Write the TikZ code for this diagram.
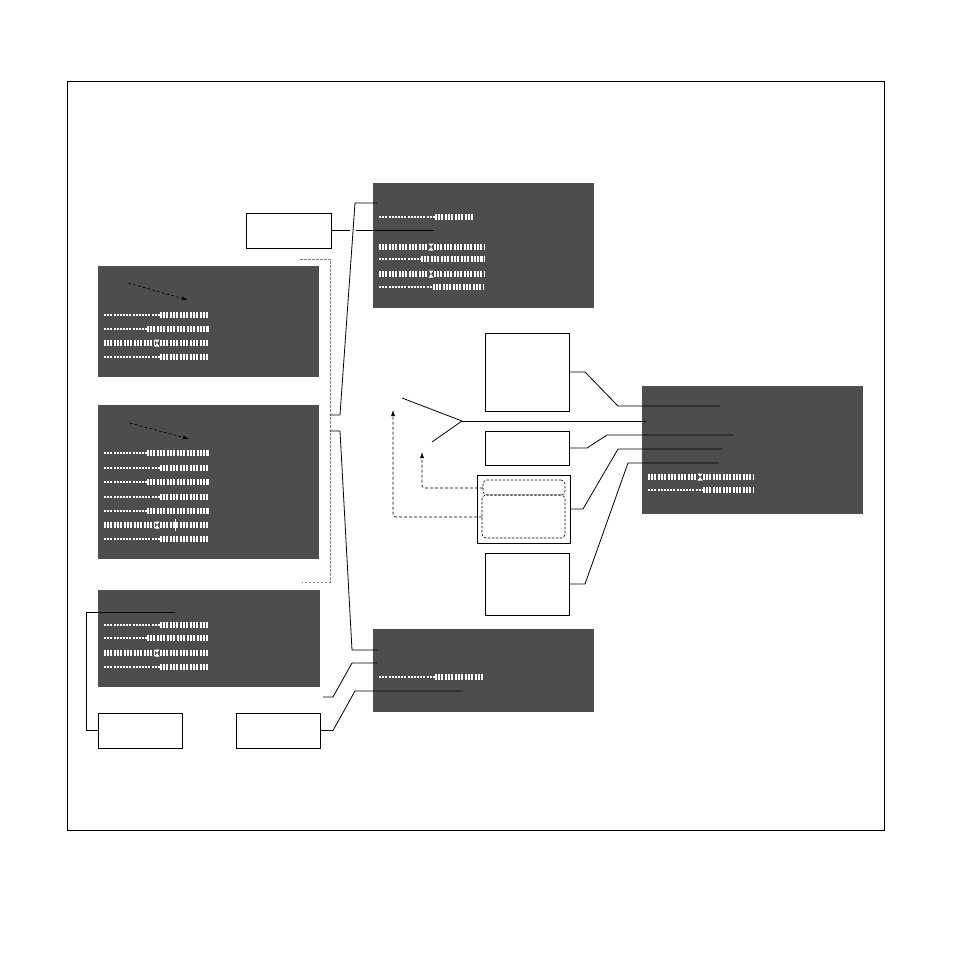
\documentclass[tikz,border=0pt]{standalone}
\usetikzlibrary{arrows.meta}
\definecolor{dkgray}{RGB}{77,77,77}
\newcommand\myDrow[4]{%
  \draw[dashrow] (#1,#4) -- (#2,#4);
  \draw[barrow] (#2,#4) -- (#3,#4);}
\newcommand\myHrow[4]{%
  \draw[barrow] (#1,#4) -- ({#2-3},#4);
  \draw[barrow] ({#2+3},#4) -- (#3,#4);
  \fill[white] ({#2-2.5},{#4-3.5}) -- ({#2+2.5},{#4-3.5}) -- (#2,#4) -- cycle;
  \fill[white] ({#2-2.5},{#4+3.5}) -- ({#2+2.5},{#4+3.5}) -- (#2,#4) -- cycle;}
\tikzset{
  darkbox/.style={fill=dkgray, draw=none, inner sep=0pt, outer sep=0pt, anchor=north west},
  wbox/.style={draw=black, line width=0.8pt, fill=white, inner sep=0pt, outer sep=0pt, anchor=north west},
  innerdash/.style={draw=black, line width=0.6pt, dash pattern=on 2.5pt off 1.5pt, rounded corners=4pt, inner sep=0pt, outer sep=0pt, anchor=north west},
  conn/.style={draw=black, line width=0.8pt},
  bracket/.style={draw=gray, line width=0.8pt, dash pattern=on 2.5pt off 1.5pt},
  darr/.style={draw=black, line width=0.6pt, dash pattern=on 3pt off 2pt, -{Latex[length=6pt,width=4pt]}},
  dashrow/.style={white, line width=1.3pt, dash pattern=on 2pt off 1pt on 2pt off 1pt on 2pt off 1.6pt},
  barrow/.style={white, line width=6pt, dash pattern=on 2.2pt off 0.9pt on 2.2pt off 0.9pt on 2.2pt off 1.5pt},
}
\begin{document}
\begin{tikzpicture}[x=1pt,y=-1pt]
\useasboundingbox (0,0) rectangle (954,954);
\draw[line width=0.8pt] (67,81) rectangle (884,830);

% dark boxes
\node[darkbox, minimum width=221pt, minimum height=125pt] (top) at (373,183) {};
\node[darkbox, minimum width=221pt, minimum height=111pt] (lb1) at (98,266) {};
\node[darkbox, minimum width=221pt, minimum height=154pt] (lb2) at (98,405) {};
\node[darkbox, minimum width=222pt, minimum height=97pt] (lb3) at (98,590) {};
\node[darkbox, minimum width=221pt, minimum height=83pt] (bot) at (373,629) {};
\node[darkbox, minimum width=221pt, minimum height=128pt] (rb) at (642,386) {};

% white boxes
\node[wbox, minimum width=85pt, minimum height=35pt] (sb) at (246,213) {};
\node[wbox, minimum width=84pt, minimum height=35pt] (bl1) at (98,713) {};
\node[wbox, minimum width=84pt, minimum height=35pt] (bl2) at (236,713) {};
\node[wbox, minimum width=84pt, minimum height=78pt] (c1) at (485,333) {};
\node[wbox, minimum width=84pt, minimum height=34pt] (c2) at (485,431) {};
\node[wbox, minimum width=93pt, minimum height=68pt] (c3) at (477,475) {};
\node[innerdash, minimum width=82pt, minimum height=15pt] (c3a) at (483,480) {};
\node[innerdash, minimum width=83pt, minimum height=43pt] (c3b) at (482,495) {};
\node[wbox, minimum width=84pt, minimum height=62pt] (c4) at (485,553) {};

% rows: top box
\myDrow{379}{435}{474}{217}
\myHrow{379}{431}{484}{247}
\myDrow{379}{421}{484}{259}
\myHrow{379}{431}{484}{274}
\myDrow{379}{433}{484}{287}

% rows: left box 1
\myDrow{104}{160}{209}{315}
\myDrow{104}{147}{209}{329}
\myHrow{104}{157}{209}{343}
\myDrow{104}{160}{209}{357}

% rows: left box 2
\myDrow{104}{147}{209}{453}
\myDrow{104}{160}{209}{468}
\myDrow{104}{147}{209}{482}
\myDrow{104}{160}{209}{497}
\myDrow{104}{147}{209}{511}
\myHrow{104}{157}{209}{525}
\draw[white, line width=0.8pt] (175,519) -- (175,531);
\myDrow{104}{160}{209}{539}

% rows: left box 3
\myDrow{104}{160}{208}{625}
\myDrow{104}{147}{208}{638}
\myHrow{104}{157}{208}{653}
\myDrow{104}{160}{208}{667}

% rows: bottom box
\myDrow{379}{435}{483}{677}

% rows: right box
\myHrow{648}{700}{753}{477}
\myDrow{648}{703}{753}{490}

% arrows inside left boxes
\draw[darr] (128,283) -- (188,300);
\draw[darr] (130,423) -- (189,439);

% left bracket
\draw[bracket] (300,259) -- (330,259) -- (330,582) -- (302,582);
\coordinate (brA) at (330,415);
\coordinate (brB) at (330,431);
\draw[conn] (brA) -- (340,415) -- (355,203) -- (377,203);
\draw[conn] (brB) -- (340,431) -- (352,650) -- (377,650);

% small top box connector
\draw[conn] (sb.east) -- (350,230.5);
\draw[conn] (356,230.5) -- (434,230.5);

% bottom connectors
\coordinate (fA) at (323,697);
\draw[conn] (fA) -- (333,697) -- (352,663) -- (377,663);
\draw[conn] (bl2.east) -- (333,730.5) -- (355,691) -- (463,691);
\draw[conn] (bl1.west) -- (86,730.5) -- (86,612) -- (175,612);

% fork
\coordinate (fk) at (462,421);
\draw[conn] (402,398) -- (fk);
\draw[conn] (432,442) -- (fk);
\draw[conn] (fk) -- (646,421);

% dashed arrows from c3
\draw[darr, rounded corners=3pt] (c3b.west |- 0,517) -- (393,517) -- (393,410);
\draw[darr, rounded corners=3pt] (c3a.west |- 0,488) -- (422,488) -- (422,452);

% connectors to right box
\draw[conn] (c1.east) -- (585,372) -- (618,406) -- (720,406);
\draw[conn] (c2.east) -- (587,448) -- (607,435) -- (733,435);
\draw[conn] (c3.east) -- (583,509) -- (618,449) -- (722,449);
\draw[conn] (c4.east) -- (585,584) -- (628,463) -- (719,463);
\end{tikzpicture}
\end{document}
